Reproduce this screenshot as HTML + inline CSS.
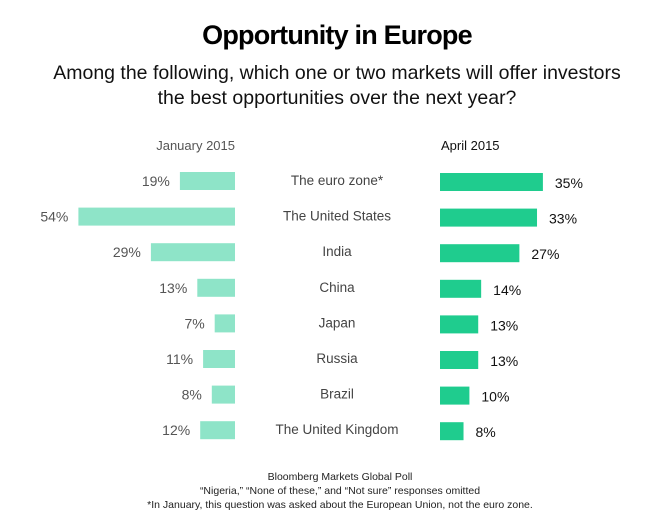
<!DOCTYPE html>
<html><head><meta charset="utf-8"><style>
body{margin:0;width:665px;height:527px;background:#fff;font-family:"Liberation Sans",sans-serif;overflow:hidden}
svg text{font-family:"Liberation Sans",sans-serif}
</style></head><body>
<svg id="chart" width="665" height="527" xmlns="http://www.w3.org/2000/svg">
<text x="337" y="44" text-anchor="middle" font-size="27" font-weight="bold" fill="#000" letter-spacing="-0.8">Opportunity in Europe</text>
<text x="337" y="79" text-anchor="middle" font-size="19.5" fill="#111">Among the following, which one or two markets will offer investors</text>
<text x="337" y="104" text-anchor="middle" font-size="19.5" fill="#111">the best opportunities over the next year?</text>
<text x="235" y="150" text-anchor="end" font-size="13" fill="#555">January 2015</text>
<text x="441" y="150" font-size="13" fill="#111">April 2015</text>
<g id="bars"></g>
<text x="340" y="480" text-anchor="middle" font-size="10.5" fill="#222">Bloomberg Markets Global Poll</text>
<text x="340" y="494" text-anchor="middle" font-size="10.5" fill="#222">“Nigeria,” “None of these,” and “Not sure” responses omitted</text>
<text x="340" y="508" text-anchor="middle" font-size="10.5" fill="#222">*In January, this question was asked about the European Union, not the euro zone.</text>
</svg>
<script>
const categories=["The euro zone*","The United States","India","China","Japan","Russia","Brazil","The United Kingdom"];
const january=[19,54,29,13,7,11,8,12];
const april=[35,33,27,14,13,13,10,8];
const g=document.getElementById('bars');
const NS='http://www.w3.org/2000/svg';
const leftX=v=>235-v*2.9;
const rightW=v=>v*2.94;
const rowY=i=>181+i*35.6;
function mk(tag,attrs){const e=document.createElementNS(NS,tag);for(const k in attrs)e.setAttribute(k,attrs[k]);g.appendChild(e);return e;}
categories.forEach((c,i)=>{
  const y=rowY(i);
  const b1=mk('rect',{x:leftX(january[i]),y:y-9,width:235-leftX(january[i]),height:18,fill:'#8ee4c8'});
  
  
  const t1=mk('text',{x:leftX(january[i])-10,y:y+5,'text-anchor':'end','font-size':14,fill:'#555'});
  t1.textContent=january[i]+'%';
  
  
  const l=mk('text',{x:337,y:y+4,'text-anchor':'middle','font-size':13.5,fill:'#444'});
  l.textContent=c;
  
  
  const b2=mk('rect',{x:440,y:y-8,width:rightW(april[i]),height:18,fill:'#1fcc8e'});
  
  
  const t2=mk('text',{x:440+rightW(april[i])+12,y:y+7,'font-size':14,fill:'#111'});
  t2.textContent=april[i]+'%';
  
  
});
</script>
</body></html>
